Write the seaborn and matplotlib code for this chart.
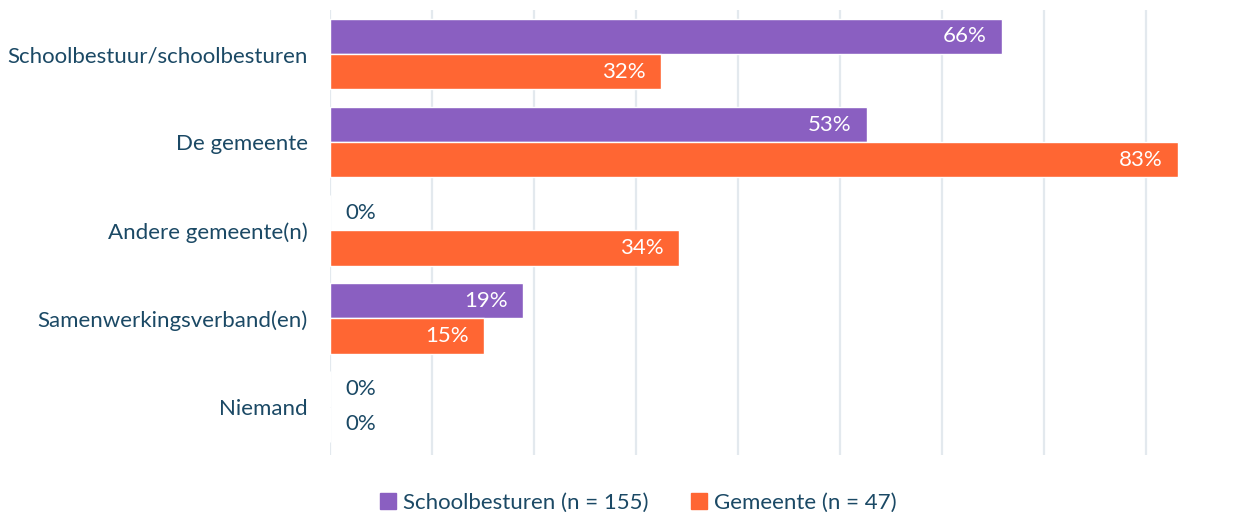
import matplotlib
matplotlib.use("Agg")
import matplotlib.pyplot as plt
import seaborn as sns
import pandas as pd

# ── Data ──────────────────────────────────────────────────────────────────────
categories = [
    "Schoolbestuur/schoolbesturen",
    "De gemeente",
    "Andere gemeente(n)",
    "Samenwerkingsverband(en)",
    "Niemand",
]
series_names = ["Schoolbesturen (n = 155)", "Gemeente (n = 47)"]
# bar lengths (labels show rounded values)
schoolbesturen = [65.9, 52.6, 0, 18.9, 0]
gemeente = [32.4, 83.1, 34.2, 15.1, 0]

colors = ["#8A5FC1", "#FF6633"]
TEXT = "#1B4965"

df = pd.DataFrame({
    "categorie": categories * 2,
    "groep": [series_names[0]] * len(categories) + [series_names[1]] * len(categories),
    "pct": schoolbesturen + gemeente,
})

# ── Style ─────────────────────────────────────────────────────────────────────
sns.set_style("white")
plt.rcParams["font.family"] = ["Lato", "DejaVu Sans"]

fig = plt.figure(figsize=(12.37, 5.12), dpi=100)
ax = fig.add_axes([330 / 1237, 1 - 455 / 512, 1 - 330 / 1237, 445 / 512])

sns.barplot(
    data=df, x="pct", y="categorie", hue="groep",
    order=categories, hue_order=series_names,
    palette=colors, orient="h", width=0.8, saturation=1,
    legend=False, ax=ax,
)

ax.set_xlim(0, 88.9)
ax.set_ylim(4.55, -0.5)
ax.set_xticks(range(0, 90, 10))
ax.set_xticklabels([])
ax.tick_params(axis="x", length=0)
ax.tick_params(axis="y", length=0, labelsize=16, labelcolor=TEXT, pad=16)
ax.set_xlabel("")
ax.set_ylabel("")
ax.grid(axis="x", color="#E3E9EE", linewidth=1.6)
ax.set_axisbelow(True)
for s in ax.spines.values():
    s.set_visible(False)

# ── Value labels ─────────────────────────────────────────────────────────────
for cont, vals in zip(ax.containers, [schoolbesturen, gemeente]):
    for patch, v in zip(cont.patches, vals):
        yc = patch.get_y() + patch.get_height() / 2
        lbl = f"{round(v)}%"
        if v > 0:
            ax.annotate(lbl, (patch.get_width(), yc), xytext=(-11, 0),
                        textcoords="offset points", ha="right", va="center",
                        color="white", fontsize=16)
        else:
            ax.annotate(lbl, (patch.get_width(), yc), xytext=(11, 0),
                        textcoords="offset points", ha="left", va="center",
                        color=TEXT, fontsize=16)

# ── Legend ───────────────────────────────────────────────────────────────────
handles = [plt.Rectangle((0, 0), 1, 1, color=c) for c in colors]
fig.legend(handles, series_names, loc="lower center", ncol=2,
           bbox_to_anchor=(0.516, -0.04), frameon=False, fontsize=16,
           handlelength=0.72, handleheight=0.72, handletextpad=0.3,
           columnspacing=1.9, labelcolor=TEXT)

fig.savefig("out.png", dpi=100)
